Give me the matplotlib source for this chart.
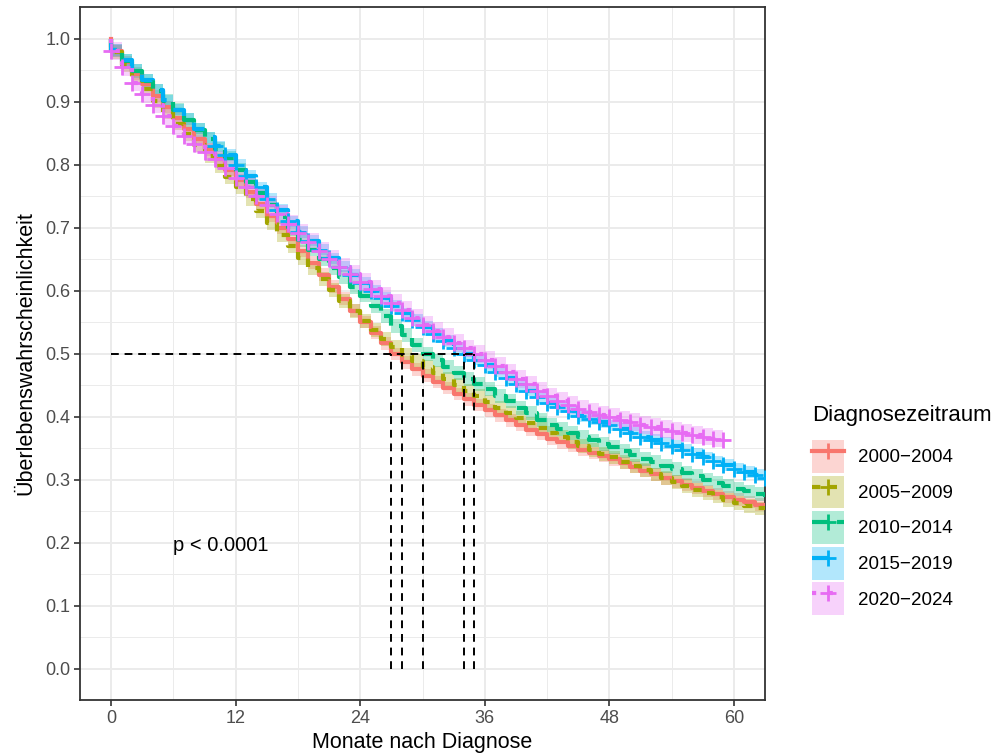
import matplotlib
matplotlib.use("Agg")
import matplotlib.pyplot as plt
from matplotlib.patches import Patch
from matplotlib.lines import Line2D
import numpy as np

plt.rcParams['font.family'] = ['Liberation Sans', 'DejaVu Sans']

# ---------------- data ----------------
months = list(range(64))
strata = ['2000\u22122004', '2005\u22122009', '2010\u22122014', '2015\u22122019', '2020\u22122024']

surv_2000_2004 = [0.980, 0.962, 0.944, 0.927, 0.909, 0.891, 0.874, 0.857, 0.841, 0.824,
                  0.808, 0.791, 0.775, 0.757, 0.738, 0.719, 0.700, 0.681, 0.663, 0.644,
                  0.625, 0.606, 0.587, 0.568, 0.550, 0.533, 0.516, 0.499, 0.486, 0.475,
                  0.465, 0.455, 0.445, 0.436, 0.427, 0.418, 0.410, 0.402, 0.394, 0.387,
                  0.379, 0.372, 0.365, 0.359, 0.353, 0.347, 0.342, 0.337, 0.332, 0.326,
                  0.320, 0.314, 0.308, 0.302, 0.297, 0.292, 0.287, 0.282, 0.277, 0.272,
                  0.268, 0.264, 0.260, 0.257]
surv_2005_2009 = [0.978, 0.958, 0.939, 0.920, 0.901, 0.883, 0.865, 0.848, 0.831, 0.814,
                  0.797, 0.780, 0.764, 0.745, 0.726, 0.707, 0.688, 0.670, 0.652, 0.635,
                  0.618, 0.601, 0.584, 0.567, 0.551, 0.537, 0.523, 0.510, 0.498, 0.488,
                  0.479, 0.469, 0.459, 0.450, 0.441, 0.432, 0.423, 0.414, 0.405, 0.397,
                  0.389, 0.381, 0.374, 0.367, 0.360, 0.353, 0.347, 0.341, 0.335, 0.328,
                  0.322, 0.315, 0.308, 0.302, 0.296, 0.290, 0.284, 0.279, 0.273, 0.268,
                  0.263, 0.258, 0.254, 0.250]
surv_2010_2014 = [0.981, 0.965, 0.949, 0.933, 0.917, 0.901, 0.886, 0.870, 0.855, 0.840,
                  0.825, 0.810, 0.792, 0.773, 0.754, 0.735, 0.716, 0.697, 0.680, 0.665,
                  0.650, 0.636, 0.621, 0.606, 0.592, 0.576, 0.560, 0.544, 0.529, 0.514,
                  0.499, 0.489, 0.479, 0.469, 0.460, 0.451, 0.443, 0.433, 0.424, 0.414,
                  0.405, 0.395, 0.386, 0.380, 0.374, 0.368, 0.362, 0.357, 0.351, 0.345,
                  0.339, 0.333, 0.328, 0.322, 0.317, 0.311, 0.305, 0.300, 0.295, 0.290,
                  0.285, 0.281, 0.277, 0.273]
surv_2015_2019 = [0.982, 0.966, 0.950, 0.934, 0.918, 0.902, 0.887, 0.872, 0.857, 0.843,
                  0.829, 0.815, 0.800, 0.782, 0.764, 0.746, 0.728, 0.710, 0.693, 0.679,
                  0.665, 0.651, 0.638, 0.625, 0.612, 0.600, 0.588, 0.576, 0.564, 0.553,
                  0.542, 0.531, 0.520, 0.509, 0.499, 0.490, 0.481, 0.471, 0.461, 0.451,
                  0.441, 0.431, 0.422, 0.415, 0.408, 0.401, 0.396, 0.391, 0.386, 0.380,
                  0.374, 0.368, 0.363, 0.358, 0.353, 0.347, 0.341, 0.335, 0.329, 0.323,
                  0.317, 0.312, 0.307, 0.302]
surv_2020_2024 = [0.980, 0.955, 0.930, 0.912, 0.895, 0.877, 0.861, 0.846, 0.833, 0.820,
                  0.808, 0.794, 0.779, 0.764, 0.750, 0.736, 0.721, 0.706, 0.691, 0.677,
                  0.663, 0.650, 0.638, 0.626, 0.614, 0.602, 0.591, 0.580, 0.569, 0.557,
                  0.546, 0.536, 0.526, 0.517, 0.508, 0.499, 0.490, 0.480, 0.470, 0.460,
                  0.451, 0.441, 0.432, 0.425, 0.418, 0.412, 0.407, 0.403, 0.399, 0.395,
                  0.391, 0.387, 0.383, 0.380, 0.377, 0.374, 0.371, 0.368, 0.365, 0.362]

# half width of the confidence band of each stratum
ci_half = [0.010, 0.011, 0.011, 0.009, 0.014]

# months with censored observations
censor_2000_2004 = []
censor_2005_2009 = []
censor_2010_2014 = []
censor_2015_2019 = list(range(10, 64))
censor_2020_2024 = list(range(0, 60))

p_text = 'p < 0.0001'

# ---------------- style ----------------
surv_all = [surv_2000_2004, surv_2005_2009, surv_2010_2014, surv_2015_2019, surv_2020_2024]
censor_all = [censor_2000_2004, censor_2005_2009, censor_2010_2014, censor_2015_2019, censor_2020_2024]
colors = ['#F8766D', '#A3A500', '#00BF7D', '#00B0F6', '#E76BF3']
linestyles = ['-', (0, (2, 2)), (0, (4, 2)), (0, (4, 4)), (0, (1, 3))]
LW = 3.0

W, H = 996, 756
fig = plt.figure(figsize=(W / 100, H / 100), dpi=100)
ax = fig.add_axes([80 / W, (H - 700) / H, 685 / W, 693 / H])

ax.set_xlim(-3, 63)
ax.set_ylim(-0.05, 1.05)
ax.set_xticks(range(0, 61, 12))
ax.set_xticks(range(6, 61, 12), minor=True)
ax.set_yticks(np.round(np.arange(0, 1.01, 0.1), 1))
ax.set_yticks(np.round(np.arange(0.05, 1.0, 0.1), 2), minor=True)
ax.set_yticklabels([f'{v:.1f}' for v in np.arange(0, 1.01, 0.1)])
ax.grid(which='major', color='#EBEBEB', lw=1.4, zorder=0)
ax.grid(which='minor', color='#EBEBEB', lw=0.7, zorder=0)
ax.set_axisbelow(True)
for sp in ax.spines.values():
    sp.set_color('#333333')
    sp.set_linewidth(1.3)
ax.tick_params(which='major', length=4, width=1.2, color='#333333',
               labelsize=13, labelcolor='#4D4D4D', pad=3)
ax.tick_params(which='minor', length=0)

# bands
for s, c, h in zip(surv_all, colors, ci_half):
    t = np.array([0] + months[:len(s)], dtype=float)
    v = np.array([1.0] + s)
    ax.fill_between(t, v - h, np.minimum(v + h, 1.0), step='post', color=c,
                    alpha=0.3, lw=0, zorder=2)
# lines
for s, c, ls in zip(surv_all, colors, linestyles):
    t = [0] + months[:len(s)]
    v = [1.0] + s
    ax.plot(t, v, drawstyle='steps-post', color=c, lw=LW, ls=ls, zorder=3)
# censor marks
for s, c, cm in zip(surv_all, colors, censor_all):
    if cm:
        ax.plot(cm, [s[m] for m in cm], ls='none', marker='+', ms=11, mew=2,
                color=c, zorder=4)

# median lines
medians = [months[next(i for i, v in enumerate(s) if v <= 0.5)] for s in surv_all]
ax.plot([0, max(medians)], [0.5, 0.5], color='black', lw=1.4, ls=(0, (4, 3)), zorder=5)
for md in medians:
    ax.plot([md, md], [0, 0.5], color='black', lw=1.4, ls=(0, (4, 3)), zorder=5)

ax.text(6.0, 0.195, p_text, fontsize=14.5, ha='left', va='center', color='black')

ax.set_xlabel('Monate nach Diagnose', fontsize=15.5, labelpad=4)
ax.set_ylabel('Überlebenswahrscheinlichkeit', fontsize=15.5, labelpad=6)

# legend
handles = []
for c, ls in zip(colors, linestyles):
    handles.append((Patch(facecolor=c, alpha=0.3, edgecolor='none'),
                    Line2D([], [], color=c, lw=LW, ls=ls, marker='+', ms=11, mew=2)))
leg = fig.legend(handles, strata, title='Diagnosezeitraum', loc='upper left',
                 bbox_to_anchor=(812 / W, 1 - 405 / H), bbox_transform=fig.transFigure,
                 frameon=False, fontsize=13.5, title_fontsize=16, borderpad=0,
                 borderaxespad=0, handlelength=1.7, handleheight=2.33,
                 labelspacing=0.14, handletextpad=0.75, alignment='left', numpoints=1)
leg._legend_box.sep = 10

fig.savefig('out.png', dpi=100)
